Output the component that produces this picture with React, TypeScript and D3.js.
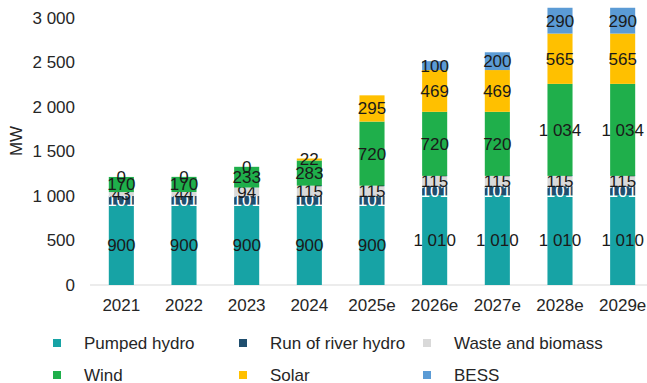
import React from "react";
import * as d3 from "d3";

const years = ["2021", "2022", "2023", "2024", "2025e", "2026e", "2027e", "2028e", "2029e"];
const pumpedHydro = [900, 900, 900, 900, 900, 1010, 1010, 1010, 1010];
const runOfRiver = [101, 101, 101, 101, 101, 101, 101, 101, 101];
const wasteBiomass = [43, 44, 94, 115, 115, 115, 115, 115, 115];
const wind = [170, 170, 233, 283, 720, 720, 720, 1034, 1034];
const solar = [0, 0, 0, 22, 295, 469, 469, 565, 565];
const bess: (number | null)[] = [null, null, null, null, null, 100, 200, 290, 290];
const yTicks = [0, 500, 1000, 1500, 2000, 2500, 3000];

const series = [
  { name: "Pumped hydro", values: pumpedHydro, color: "#17A3A5", text: "#1a1a1a" },
  { name: "Run of river hydro", values: runOfRiver, color: "#1F4E6E", text: "#ffffff" },
  { name: "Waste and biomass", values: wasteBiomass, color: "#D9D9D9", text: "#1a1a1a" },
  { name: "Wind", values: wind, color: "#1FAF4B", text: "#1a1a1a" },
  { name: "Solar", values: solar, color: "#FFC000", text: "#1a1a1a" },
  { name: "BESS", values: bess, color: "#5B9BD5", text: "#1a1a1a" },
];

const W = 647;
const H = 383;
const FONT = "'Liberation Sans', Arial, sans-serif";

const fmt = (v: number) => d3.format(",")(v).replace(/,/g, " ");

export default function App() {
  const x = d3.scaleBand<string>().domain(years).range([90, 654]).paddingInner(0.6).paddingOuter(0.3);
  const y = d3.scaleLinear().domain([0, 3000]).range([285, 18]);

  // cumulative bases per year
  const bases = years.map(() => 0);
  const layers = series.map((s) => {
    const segs = years.map((yr, i) => {
      const v = s.values[i];
      if (v === null || v === undefined) return null;
      const y0 = bases[i];
      const y1 = y0 + v;
      bases[i] = y1;
      return { yr, v, y0, y1 };
    });
    return { ...s, segs };
  });

  const legendCols = [57, 243, 427];
  const legendRows = [343, 375];

  return (
    <svg
      width={W}
      height={H}
      style={{ position: "absolute", left: 0, top: 0, background: "#fff" }}
      fontFamily={FONT}
    >
      {/* y axis tick labels */}
      {yTicks.map((t) => (
        <text key={t} x={75} y={y(t)} dy="0.35em" textAnchor="end" fontSize={17} fill="#262626">
          {fmt(t)}
        </text>
      ))}
      <text
        transform={`translate(16,141) rotate(-90)`}
        textAnchor="middle"
        dy="0.35em"
        fontSize={17}
        fill="#262626"
      >
        MW
      </text>

      {/* baseline */}
      <line x1={90} x2={W} y1={y(0)} y2={y(0)} stroke="#D9D9D9" strokeWidth={1} />

      {/* stacked bars: each series' labels are drawn before the next series' bars */}
      {layers.map((l) => (
        <g key={l.name}>
          {l.segs.map((s) =>
            s ? (
              <rect
                key={s.yr}
                x={x(s.yr)}
                y={y(s.y1)}
                width={x.bandwidth()}
                height={y(s.y0) - y(s.y1)}
                fill={l.color}
              />
            ) : null
          )}
          {l.segs.map((s) =>
            s ? (
              <text
                key={s.yr}
                x={(x(s.yr) as number) + x.bandwidth() / 2}
                y={y((s.y0 + s.y1) / 2)}
                dy="0.35em"
                textAnchor="middle"
                fontSize={17}
                fill={l.text}
              >
                {fmt(s.v)}
              </text>
            ) : null
          )}
        </g>
      ))}

      {/* x axis labels */}
      {years.map((yr) => (
        <text
          key={yr}
          x={(x(yr) as number) + x.bandwidth() / 2}
          y={305}
          dy="0.35em"
          textAnchor="middle"
          fontSize={17}
          fill="#262626"
        >
          {yr}
        </text>
      ))}

      {/* legend */}
      {series.map((s, i) => {
        const lx = legendCols[i % 3];
        const ly = legendRows[Math.floor(i / 3)];
        return (
          <g key={s.name}>
            <rect x={lx - 4} y={ly - 4} width={8} height={8} fill={s.color} />
            <text x={lx + 27} y={ly} dy="0.35em" fontSize={17} fill="#262626">
              {s.name}
            </text>
          </g>
        );
      })}
    </svg>
  );
}
